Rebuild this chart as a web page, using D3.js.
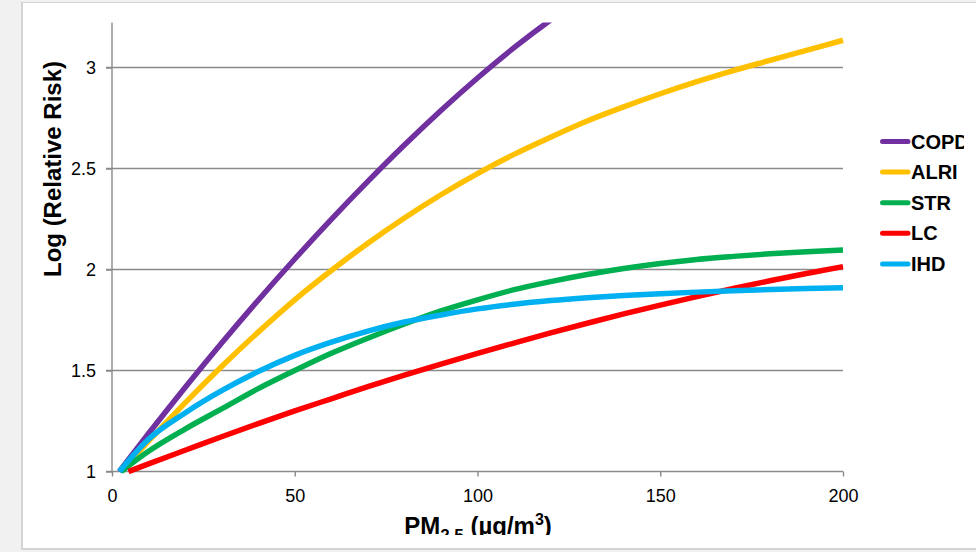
<!DOCTYPE html>
<html>
<head>
<meta charset="utf-8">
<script src="https://cdn.jsdelivr.net/npm/d3@7"></script>
<style>
  html, body { margin: 0; padding: 0; background: #f1f1f1; overflow: hidden; }
  svg { display: block; }
  text { font-family: "Liberation Sans", Arial, sans-serif; }
</style>
</head>
<body>
<svg id="chart" width="976" height="552"></svg>
<script>
// PM2.5 exposure (µg/m³) sampled along each curve
const pm = [10, 20, 30, 40, 50, 60, 70, 80, 90, 100, 110, 120, 130, 140, 150, 160, 170, 180, 190, 200];

// Log relative risk per outcome (null = beyond the plotted range)
const copd = [1.188, 1.416, 1.636, 1.848, 2.052, 2.248, 2.436, 2.616, 2.787, 2.948, 3.098, 3.235, 3.36, null, null, null, null, null, null, null];
const alri = [1.15, 1.34, 1.52, 1.69, 1.85, 1.995, 2.13, 2.255, 2.37, 2.475, 2.57, 2.655, 2.735, 2.805, 2.87, 2.93, 2.985, 3.035, 3.085, 3.135];
const str  = [1.10, 1.21, 1.31, 1.41, 1.50, 1.585, 1.66, 1.73, 1.795, 1.85, 1.90, 1.94, 1.975, 2.005, 2.03, 2.05, 2.065, 2.078, 2.088, 2.096];
const lc   = [1.038, 1.105, 1.172, 1.237, 1.30, 1.36, 1.42, 1.477, 1.532, 1.585, 1.636, 1.686, 1.734, 1.78, 1.824, 1.866, 1.906, 1.944, 1.98, 2.014];
const ihd  = [1.16, 1.29, 1.40, 1.495, 1.575, 1.64, 1.695, 1.74, 1.775, 1.805, 1.828, 1.846, 1.86, 1.871, 1.88, 1.888, 1.895, 1.901, 1.906, 1.91];

// counterfactual exposure where each curve starts (risk = 1)
const startPm = [2, 2.5, 2.5, 4.5, 2];

const seriesNames = ["COPD", "ALRI", "STR", "LC", "IHD"];
const seriesValues = [copd, alri, str, lc, ihd];
const seriesColors = ["#7030A0", "#FFC000", "#00B050", "#FF0000", "#00B0F0"];

const xTicks = [0, 50, 100, 150, 200];
const yTicks = [1, 1.5, 2, 2.5, 3];
const yTickLabels = ["1", "1.5", "2", "2.5", "3"];

const svg = d3.select("#chart");
const defs = svg.append("defs");

// page card
svg.append("rect").attr("x", 0).attr("y", 0).attr("width", 976).attr("height", 552).attr("fill", "#f1f1f1");
svg.append("rect").attr("x", 21).attr("y", 2).attr("width", 960).attr("height", 548).attr("fill", "#d4d4d4");
svg.append("rect").attr("x", 23).attr("y", 3).attr("width", 960).attr("height", 545).attr("fill", "#ffffff");

// the chart image area inside the card
defs.append("clipPath").attr("id", "cardClip")
  .append("rect").attr("x", 23).attr("y", 3).attr("width", 941).attr("height", 532);

const card = svg.append("g").attr("clip-path", "url(#cardClip)");

const x = d3.scaleLinear().domain([0, 200]).range([112, 843]);
const y = d3.scaleLinear().domain([1, 3]).range([471.5, 67.5]);
const yTop = 22.5;

defs.append("clipPath").attr("id", "plotClip")
  .append("rect").attr("x", 100).attr("y", yTop).attr("width", 760).attr("height", 460);

const axisColor = "#8a8a8a";

// gridlines
card.append("g")
  .selectAll("line")
  .data(yTicks.slice(1))
  .join("line")
  .attr("x1", 106).attr("x2", 843)
  .attr("y1", d => y(d)).attr("y2", d => y(d))
  .attr("stroke", axisColor).attr("stroke-width", 1.4);

// y axis
const yAxis = card.append("g")
  .attr("transform", `translate(${x(0)},0)`)
  .call(d3.axisLeft(y).tickValues(yTicks).tickFormat((d, i) => yTickLabels[i]).tickSize(6).tickPadding(10));
yAxis.select(".domain").remove();
yAxis.append("line").attr("x1", 0).attr("x2", 0).attr("y1", yTop).attr("y2", y(1))
  .attr("stroke", axisColor).attr("stroke-width", 1.4);
yAxis.selectAll(".tick line").attr("stroke", axisColor).attr("stroke-width", 1.4);
yAxis.selectAll(".tick text").attr("font-size", 18).attr("fill", "#000")
  .attr("font-family", "Liberation Sans, Arial, sans-serif");

// x axis
const xAxis = card.append("g")
  .attr("transform", `translate(0,${y(1)})`)
  .call(d3.axisBottom(x).tickValues(xTicks).tickFormat(d3.format("d")).tickSize(5).tickPadding(13).tickSizeOuter(0));
xAxis.select(".domain").attr("stroke", axisColor).attr("stroke-width", 1.4)
  .attr("d", `M106,0H${x(200)}`);
xAxis.selectAll(".tick line").attr("stroke", axisColor).attr("stroke-width", 1.4);
xAxis.selectAll(".tick text").attr("font-size", 18).attr("fill", "#000")
  .attr("font-family", "Liberation Sans, Arial, sans-serif");

// curves
const line = d3.line()
  .defined(d => d[1] != null)
  .x(d => x(d[0]))
  .y(d => y(d[1]))
  .curve(d3.curveMonotoneX);

const curves = card.append("g").attr("clip-path", "url(#plotClip)");
seriesNames.forEach((name, i) => {
  const pts = [[startPm[i], 1]].concat(
    pm.map((p, j) => [p, seriesValues[i][j]]).filter(d => d[1] != null)
  );
  curves.append("path")
    .datum(pts)
    .attr("d", line)
    .attr("fill", "none")
    .attr("stroke", seriesColors[i])
    .attr("stroke-width", 5.5)
    .attr("stroke-linejoin", "round");
});

// axis titles
card.append("text")
  .attr("transform", "translate(61,169) rotate(-90)")
  .attr("text-anchor", "middle")
  .attr("font-size", 24).attr("font-weight", "bold").attr("fill", "#000")
  .text("Log (Relative Risk)");

const xt = card.append("text")
  .attr("x", 478).attr("y", 534)
  .attr("text-anchor", "middle")
  .attr("font-size", 24).attr("font-weight", "bold").attr("fill", "#000");
xt.append("tspan").text("PM");
xt.append("tspan").attr("font-size", 17).attr("dy", 7).text("2.5");
xt.append("tspan").attr("dy", -7).text(" (µg/m");
xt.append("tspan").attr("font-size", 16).attr("dy", -9).text("3");
xt.append("tspan").attr("dy", 9).text(")");

// legend
const legend = card.append("g");
seriesNames.forEach((name, i) => {
  const ly = 141.5 + i * 30.6;
  legend.append("line")
    .attr("x1", 882.5).attr("x2", 908).attr("y1", ly).attr("y2", ly)
    .attr("stroke", seriesColors[i]).attr("stroke-width", 5).attr("stroke-linecap", "round");
  legend.append("text")
    .attr("x", 911).attr("y", ly + 7)
    .attr("font-size", 20).attr("font-weight", "bold").attr("fill", "#000")
    .text(name);
});
</script>
</body>
</html>
